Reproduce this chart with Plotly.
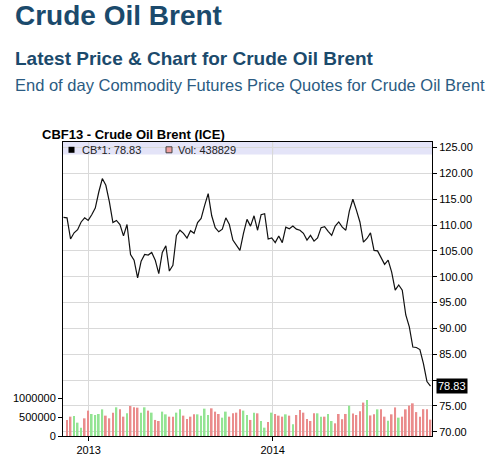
import pandas as pd
import plotly.graph_objects as go

# weekly closes, CBF13 Crude Oil Brent (ICE)
start_date = "2012-11-12"
price = [
    111.5, 111.4, 107.3, 108.5, 109.1, 110.6, 111.4, 110.9, 112.0, 113.3,
    116.4, 119.0, 117.7, 114.5, 110.5, 110.9, 110.1, 107.9, 110.1, 104.3,
    103.2, 99.8, 103.0, 104.3, 104.2, 104.7, 103.2, 100.6,
    104.7, 106.0, 101.1, 102.2, 108.0, 109.0, 108.4, 107.5, 108.9, 108.4,
    110.5, 111.3, 113.8, 116.1, 111.8, 109.5, 108.7, 109.2, 111.4, 110.1,
    107.1, 106.1, 105.1, 108.4, 111.1, 109.8, 111.8,
    109.0, 112.0, 112.2, 107.3, 107.5, 106.6, 107.9, 106.6, 109.6, 109.3,
    109.8, 109.2, 109.0, 108.4, 107.1, 108.0, 106.9, 107.5, 109.5, 109.7,
    108.8, 108.0, 109.8, 110.6, 109.6, 109.0, 112.7,
    115.0, 112.9, 110.6, 106.7, 107.4, 108.5, 105.1, 105.0, 103.8, 102.4,
    103.2, 100.9, 97.4, 98.4, 97.4, 92.6, 90.3, 86.4, 86.3, 85.9,
    83.2, 79.7, 78.83,
]
volume = [
    430000, 518000, 536000, 357000, 223000, 473000, 679000, 589000, 563000, 589000,
    714000, 545000, 473000, 625000, 768000, 714000, 518000, 607000, 804000, 768000,
    759000, 625000, 768000, 679000, 625000, 430000, 402000, 652000, 580000, 518000,
    518000, 625000, 714000, 545000, 455000, 518000, 580000, 580000, 545000, 732000,
    563000, 741000, 652000, 589000, 491000, 652000, 518000, 607000, 625000, 714000,
    679000, 563000, 430000, 625000, 607000, 402000, 223000, 375000, 625000, 589000,
    545000, 518000, 580000, 545000, 313000, 563000, 696000, 625000, 455000, 402000,
    607000, 607000, 518000, 518000, 589000, 402000, 339000, 589000, 450000, 590000,
    810000, 600000, 563000, 660000, 895000, 964000, 550000, 580000, 714000, 714000,
    518000, 405000, 580000, 765000, 491000, 518000, 714000, 813000, 875000, 640000,
    518000, 718000, 718000, 438829,
]
direction = [
    "d", "d", "u", "u", "u", "d", "d", "u", "u", "u",
    "u", "d", "d", "d", "u", "d", "d", "u", "d", "d",
    "d", "u", "u", "d", "u", "d", "d", "u", "u", "d",
    "d", "u", "u", "d", "d", "d", "d", "u", "u", "u",
    "u", "d", "d", "d", "u", "u", "d", "d", "d", "d",
    "u", "u", "d", "u", "d", "u", "u", "d", "u", "d",
    "d", "d", "u", "d", "u", "d", "d", "d", "d", "d",
    "d", "u", "u", "d", "u", "u", "d", "d", "d", "d",
    "u", "d", "d", "d", "d", "u", "d", "d", "u", "d",
    "d", "u", "d", "d", "u", "d", "d", "d", "d", "d",
    "d", "d", "d", "d",
]
year_ticks = ["2013-01-01", "2014-01-01"]
year_labels = ["2013", "2014"]
price_ticks = [70, 75, 80, 85, 90, 95, 100, 105, 110, 115, 120, 125]
volume_ticks = [0, 500000, 1000000]

dates = pd.date_range(start_date, periods=len(price), freq="7D")
vol_dates = dates[1:]

FONT = "Liberation Sans, Arial, sans-serif"
DAY_MS = 86400000
bar_colors = ["#93e493" if d == "u" else "#ea8c8c" for d in direction]
# the last-price badge sits over the 80.00 label, so that one stays blank
price_labels = ["" if v == 80 else f"{v:.2f}" for v in price_ticks]


def py(y):
    """page pixel y -> paper y"""
    return (436 - y) / 294.3


def px(x):
    """page pixel x -> paper x"""
    return (x - 63) / 369


fig = go.Figure()
fig.add_trace(
    go.Scatter(
        x=dates, y=price, mode="lines",
        line=dict(color="#111111", width=1.2), yaxis="y", hoverinfo="x+y",
    )
)
fig.add_trace(
    go.Bar(
        x=vol_dates, y=volume, width=3.4 * DAY_MS,
        marker=dict(color=bar_colors, line=dict(width=0)), yaxis="y2",
    )
)

grid = "#d9d9d9"
fig.update_layout(
    width=500, height=462,
    margin=dict(l=63, r=68, t=142, b=26, autoexpand=False),
    paper_bgcolor="white", plot_bgcolor="white",
    showlegend=False,
    font=dict(family=FONT, size=11, color="black"),
    xaxis=dict(
        type="date", range=["2012-11-11", "2014-11-13"],
        tickvals=year_ticks, ticktext=year_labels,
        showgrid=True, gridcolor=grid, ticks="outside", ticklen=4,
        tickcolor="black", showline=True, linecolor="black", mirror=True,
        zeroline=False,
    ),
    yaxis=dict(
        side="right", range=[69.17, 126.08], tickvals=price_ticks,
        ticktext=price_labels, showgrid=True, gridcolor=grid, ticks="outside",
        ticklen=4, tickcolor="black", showline=True, linecolor="black",
        mirror=True, zeroline=False,
    ),
    yaxis2=dict(
        overlaying="y", side="left", range=[0, 7.87e6], tickvals=volume_ticks,
        tickformat="d", showgrid=False, ticks="outside", ticklen=4,
        tickcolor="black", showline=False, zeroline=False,
    ),
)

shapes = [
    dict(type="rect", xref="paper", yref="paper", x0=0, x1=1, y0=py(154.3), y1=1,
         fillcolor="#e4e4f8", line=dict(width=0), layer="between"),
]
for t in year_ticks:
    shapes.append(dict(type="line", xref="x", yref="paper", x0=t, x1=t, y0=py(154.3), y1=1,
                       line=dict(color=grid, width=1), layer="between"))
shapes += [
    dict(type="rect", xref="paper", yref="paper", x0=px(68.5), x1=px(74.5),
         y0=py(152.5), y1=py(146.5), fillcolor="black", line=dict(width=0)),
    dict(type="rect", xref="paper", yref="paper", x0=px(166), x1=px(172),
         y0=py(152.5), y1=py(146.5), fillcolor="#f0a0a0",
         line=dict(color="#444444", width=1)),
]
fig.update_layout(shapes=shapes)

head = "#1b4a6c"
annotations = [
    dict(text="<b>Crude Oil Brent</b>", x=px(13), y=py(15), xanchor="left", yanchor="middle",
         font=dict(size=28, color=head)),
    dict(text="<b>Latest Price & Chart for Crude Oil Brent</b>", x=px(13), y=py(58.5),
         xanchor="left", yanchor="middle", font=dict(size=19, color=head)),
    dict(text="End of day Commodity Futures Price Quotes for Crude Oil Brent", x=px(13), y=py(85),
         xanchor="left", yanchor="middle", font=dict(size=16.5, color="#2b5b82")),
    dict(text="<b>CBF13 - Crude Oil Brent (ICE)</b>", x=px(40), y=py(134),
         xanchor="left", yanchor="middle", font=dict(size=13, color="black")),
    dict(text="CB*1: 78.83", x=px(80), y=py(149.5), xanchor="left", yanchor="middle",
         font=dict(size=11, color="#222222")),
    dict(text="Vol: 438829", x=px(176), y=py(149.5), xanchor="left", yanchor="middle",
         font=dict(size=11, color="#222222")),
    dict(text="78.83", xref="paper", yref="y", x=1, y=price[-1], xanchor="left",
         yanchor="middle", xshift=4, bgcolor="black", borderpad=1,
         font=dict(size=11, color="white")),
]
for a in annotations:
    a.setdefault("xref", "paper")
    a.setdefault("yref", "paper")
    a["showarrow"] = False
fig.update_layout(annotations=annotations)

# drop the browser's default 8px body margin so the figure fills the window
fig.write_html(
    "out.html",
    config={"displayModeBar": False},
    post_script="document.body.style.margin = '0';",
)
